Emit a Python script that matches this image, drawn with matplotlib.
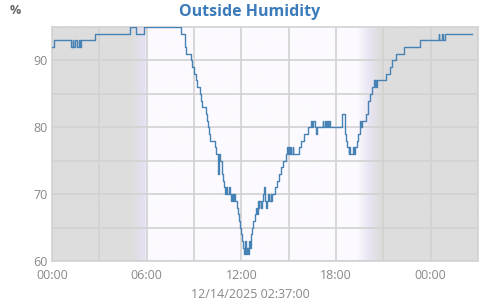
import numpy as np
import matplotlib.pyplot as plt
from matplotlib.colors import LinearSegmentedColormap

# humidity readings: hours since midnight 12/13, value in %
hours = [0.0, 0.15, 1.2, 1.3, 1.35, 1.45, 1.6, 1.7, 1.8, 1.85, 2.7, 4.95, 5.35, 5.8,
         8.2, 8.4, 8.45, 8.5, 8.8, 8.87, 9.0, 9.1, 9.2, 9.35, 9.45, 9.5, 9.75, 9.8, 9.88,
         9.95, 10.03, 10.35, 10.4, 10.5, 10.55, 10.6, 10.65, 10.75, 10.85, 10.92, 10.95,
         11.05, 11.1, 11.2, 11.25, 11.35, 11.4, 11.45, 11.55, 11.6, 11.7, 11.8, 11.85,
         11.92, 11.98, 12.05, 12.1, 12.2, 12.25, 12.3, 12.35, 12.45, 12.5, 12.55, 12.6,
         12.7, 12.75, 12.85, 12.95, 13.0, 13.05, 13.1, 13.15, 13.25, 13.3, 13.4, 13.45,
         13.5, 13.55, 13.6, 13.7, 13.75, 13.85, 13.9, 13.95, 14.15, 14.25, 14.4, 14.5,
         14.65, 14.8, 14.9, 14.95, 15.0, 15.05, 15.1, 15.15, 15.25, 15.3, 15.65, 15.75,
         15.95, 16.2, 16.4, 16.5, 16.55, 16.65, 16.75, 16.8, 17.15, 17.2, 17.3, 17.35,
         17.45, 17.5, 17.55, 17.65, 18.35, 18.4, 18.55, 18.6, 18.65, 18.7, 18.8, 18.85,
         18.9, 19.1, 19.15, 19.2, 19.3, 19.4, 19.5, 19.55, 19.6, 19.65, 19.9, 20.0, 20.05,
         20.15, 20.3, 20.4, 20.45, 20.5, 20.55, 20.6, 21.2, 21.4, 21.55, 21.8, 22.3, 23.35,
         24.5, 24.55, 24.7, 24.75, 24.9, 26.6]
humidity = [92, 93, 92, 93, 92, 93, 92, 93, 92, 93, 94, 95, 94, 95,
            94, 93, 92, 91, 90, 89, 88, 87, 86, 85, 84, 83, 82, 81, 80,
            79, 78, 77, 76, 74, 73, 76, 75, 73, 72, 71, 70,
            71, 70, 71, 70, 69, 70, 69, 70, 69, 68, 67, 66,
            65, 64, 63, 62, 61, 63, 61, 62, 61, 63, 62, 64,
            65, 66, 67, 68, 67, 69, 68, 69, 68, 69, 70, 71,
            69, 68, 69, 70, 69, 70, 69, 70, 71, 72, 73, 74,
            75, 76, 77, 76, 77, 76, 77, 76, 77, 76, 77, 78,
            79, 80, 81, 80, 81, 80, 79, 80, 81, 80, 81, 80,
            81, 80, 81, 80, 81, 82, 81, 79, 78, 77, 76, 77,
            76, 77, 76, 77, 78, 79, 80, 81, 80, 81, 82, 83, 84,
            85, 86, 87, 86, 87, 86, 87, 88, 89, 90, 91, 92, 93,
            94, 93, 94, 93, 94, 94]

# background: night / twilight / day shading
shade_hours = [0, 5.05, 5.9, 5.98, 19.35, 20.1, 20.8, 27]
shade_colors = ['#dddddd', '#dddddd', '#e6e1f3', '#fcfaff', '#fcfaff', '#e9e5f3', '#dddddd', '#dddddd']

tick_hours = [0, 6, 12, 18, 24]
tick_labels = ['00:00', '06:00', '12:00', '18:00', '00:00']

plt.rcParams['font.family'] = ['Open Sans', 'DejaVu Sans']

fig = plt.figure(figsize=(5, 3), dpi=100)
ax = fig.add_axes([0.104, 0.13, 0.852, 0.78])

cmap = LinearSegmentedColormap.from_list(
    'sky', list(zip(np.array(shade_hours) / 27, shade_colors)), N=1024)
ax.imshow(np.linspace(0, 1, 1024).reshape(1, -1), cmap=cmap, aspect='auto',
          extent=[0, 27, 60, 95], zorder=0, interpolation='bilinear')

ax.step(hours, humidity, where='post', color='#4682b4', lw=1.0, zorder=3)

ax.set_xlim(0, 27)
ax.set_ylim(60, 95)
ax.set_xticks(tick_hours)
ax.set_xticklabels(tick_labels)
ax.set_xticks(np.arange(0, 27, 3), minor=True)
ax.set_yticks([60, 70, 80, 90])
ax.set_yticks([65, 75, 85], minor=True)
ax.grid(True, which='both', color='#d2d2d2', lw=1.2, zorder=1)
ax.set_axisbelow(False)
for s in ax.spines.values():
    s.set_color('#d2d2d2')
    s.set_linewidth(1.2)
ax.tick_params(which='both', length=0, colors='#888888', labelsize=9, pad=3)
ax.tick_params(axis='x', pad=6)

fig.text(0.5, 0.96, 'Outside Humidity', ha='center', va='center',
         fontsize=11.5, fontweight='bold', color='#3b7bba')
fig.text(0.02, 0.965, '%', ha='left', va='center', fontsize=9,
         fontweight='bold', color='#666666')
fig.text(0.5, 0.02, '12/14/2025 02:37:00', ha='center', va='center',
         fontsize=9, color='#888888')

fig.savefig('out.png', dpi=100)
